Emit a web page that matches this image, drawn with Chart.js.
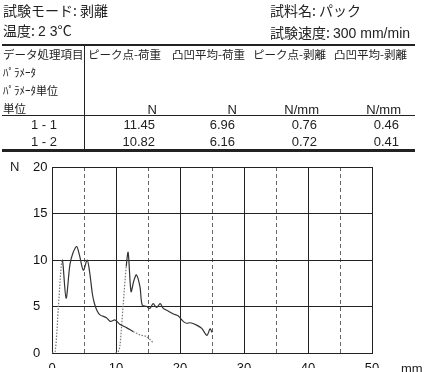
<!DOCTYPE html>
<html>
<head>
<meta charset="utf-8">
<script src="https://cdn.jsdelivr.net/npm/chart.js@4"></script>
<style>
  body { margin: 0; background: #fff; }
  #page { position: relative; width: 427px; height: 372px; overflow: hidden; color: #222;
          font-family: "Noto Sans CJK JP", "Liberation Sans", sans-serif; }
  #page div { position: absolute; white-space: nowrap; line-height: 1; }
  #page #table-body { left: 0; top: 0; width: 427px; height: 372px; }
  .head { font-size: 14px; }
  .th { font-size: 11.5px; }
  .num { font-family: "Liberation Sans", sans-serif; font-size: 13px; text-align: right; }
  .rule { background: #222; }
  canvas { position: absolute; left: 0; top: 0; }
</style>
</head>
<body>
<div id="page">
  <canvas id="peel-chart" width="427" height="372"></canvas>

  <div class="head" style="left:3px; top:3px;">試験モード: 剥離</div>
  <div class="head" style="left:3px; top:23px;">温度: <span style="font-family:'Liberation Sans'">2 3</span>°C</div>
  <div class="head" style="left:270px; top:3px;">試料名: パック</div>
  <div class="head" style="left:270px; top:25px;">試験速度: <span style="font-family:'Liberation Sans'">300 mm/min</span></div>

  <div class="rule" style="left:2px; top:44px; width:413px; height:2px;"></div>
  <div class="rule" style="left:84px; top:45px; width:1px; height:105px;"></div>
  <div class="rule" style="left:2px; top:115px; width:413px; height:1px;"></div>
  <div class="rule" style="left:2px; top:149px; width:413px; height:3px;"></div>

  <div class="th" style="left:3px; top:49px;">データ処理項目</div>
  <div class="th" style="left:88px; top:49px;">ピーク点-荷重</div>
  <div class="th" style="left:172px; top:49px;">凸凹平均-荷重</div>
  <div class="th" style="left:253px; top:49px;">ピーク点-剥離</div>
  <div class="th" style="left:334px; top:49px;">凸凹平均-剥離</div>
  <div class="th" style="left:3px; top:67px; font-size:11px;">ﾊﾟﾗﾒｰﾀ</div>
  <div class="th" style="left:3px; top:85px; font-size:11px;">ﾊﾟﾗﾒｰﾀ単位</div>
  <div class="th" style="left:3px; top:103px;">単位</div>

  <div id="table-body"></div>

  <div class="num" style="left:10px; top:160px; text-align:left;">N</div>
  <div class="num" style="left:401px; top:362px; text-align:left;">mm</div>
</div>

<script>
// Summary table
const rowNames = ['1 - 1', '1 - 2'];
const unitLabels = ['N', 'N', 'N/mm', 'N/mm'];
const peakLoad = [11.45, 10.82];
const avgLoad = [6.96, 6.16];
const peakPeel = [0.76, 0.72];
const avgPeel = [0.46, 0.41];

// Load curves (mm, N)
const run1X = [0, 0.5, 1.0, 1.6, 2.2, 2.8, 3.3, 3.85, 4.3, 4.9, 5.5, 5.9, 6.3, 6.6, 7.0, 7.5, 8.5, 9.1, 9.85, 10.6, 11.7, 12.7, 13.75, 14.8, 15.8];
const run1Y = [0, 0.2, 5.0, 10.0, 5.9, 9.5, 10.8, 11.45, 10.5, 8.9, 10.0, 8.6, 6.4, 5.4, 4.6, 4.1, 3.8, 3.4, 3.55, 3.1, 2.7, 2.3, 1.95, 1.75, 1.1];
const run2X = [9.9, 10.3, 10.6, 11.1, 11.6, 11.9, 12.35, 12.8, 13.2, 13.75, 14.1, 14.8, 15.3, 15.8, 16.35, 16.9, 17.4, 18.2, 18.95, 19.7, 20.5, 21.0, 21.6, 22.6, 23.4, 24.2, 24.7, 25.0];
const run2Y = [0, 0.1, 0.7, 5.0, 9.3, 10.82, 6.6, 7.8, 8.4, 7.1, 5.15, 5.0, 4.8, 5.3, 4.9, 5.3, 4.8, 4.5, 4.2, 4.0, 3.4, 3.2, 3.25, 3.0, 2.65, 1.9, 2.6, 2.2];

const yTicks = [0, 5, 10, 15, 20];
const xTicks = [0, 10, 20, 30, 40, 50];

// build table rows
const colRight = [157, 237, 319, 401];
const tableBody = document.getElementById('table-body');
function addCell(text, right, top) {
    const d = document.createElement('div');
    d.className = 'num';
    d.textContent = text;
    d.style.right = (427 - right) + 'px';
    d.style.top = top + 'px';
    tableBody.appendChild(d);
}
unitLabels.forEach((u, i) => addCell(u, colRight[i], 103));
const columns = [peakLoad, avgLoad, peakPeel, avgPeel];
rowNames.forEach((name, r) => {
    const top = 118 + r * 17;
    const d = document.createElement('div');
    d.className = 'num';
    d.textContent = name;
    d.style.left = '31px';
    d.style.top = top + 'px';
    tableBody.appendChild(d);
    columns.forEach((col, c) => addCell(col[r].toFixed(2), colRight[c] - 2, top));
});

const toPoints = (xs, ys) => xs.map((x, i) => ({ x: x, y: ys[i] }));

// light dotted parts of the trace (fast rise and tail of run 1)
const dotted1 = i => i < 3 || i >= 21;
const dotted2 = i => i < 4;

const ctx = document.getElementById('peel-chart').getContext('2d');
new Chart(ctx, {
    type: 'line',
    data: {
        datasets: [{
            data: toPoints(run1X, run1Y),
            borderColor: '#333',
            borderWidth: 1.2,
            pointRadius: 0,
            tension: 0.3,
            segment: {
                borderDash: s => dotted1(s.p0DataIndex) ? [1.5, 1.5] : undefined,
                borderColor: s => dotted1(s.p0DataIndex) ? '#777' : undefined
            }
        }, {
            data: toPoints(run2X, run2Y),
            borderColor: '#333',
            borderWidth: 1.2,
            pointRadius: 0,
            tension: 0.3,
            segment: {
                borderDash: s => dotted2(s.p0DataIndex) ? [1.5, 1.5] : undefined,
                borderColor: s => dotted2(s.p0DataIndex) ? '#777' : undefined
            }
        }]
    },
    options: {
        responsive: false,
        animation: false,
        layout: { padding: { left: 33, right: 55, top: 167, bottom: 4 } },
        plugins: { legend: { display: false }, tooltip: { enabled: false } },
        scales: {
            x: {
                type: 'linear',
                min: 0,
                max: 50,
                afterFit: s => { s.height = 15; },
                afterBuildTicks: s => {
                    s.ticks = [];
                    for (let v = 0; v <= 50; v += 5) s.ticks.push({ value: v });
                },
                grid: {
                    drawTicks: false,
                    color: c => (c.tick && c.tick.value % 10 !== 0) ? '#666' : '#222',
                    lineWidth: 1
                },
                border: {
                    color: '#222',
                    dash: c => (c.tick && c.tick.value % 10 !== 0) ? [4, 3] : []
                },
                ticks: {
                    padding: 8,
                    autoSkip: false,
                    maxRotation: 0,
                    color: '#111',
                    font: { family: 'Liberation Sans', size: 13 },
                    callback: v => xTicks.includes(v) ? String(v) : ''
                }
            },
            y: {
                min: 0,
                max: 20,
                afterFit: s => { s.width = 19; },
                afterBuildTicks: s => { s.ticks = yTicks.map(v => ({ value: v })); },
                grid: { drawTicks: false, color: '#222', lineWidth: 1 },
                border: { color: '#222' },
                ticks: {
                    crossAlign: 'far',
                    padding: 0,
                    color: '#111',
                    font: { family: 'Liberation Sans', size: 13 }
                }
            }
        }
    }
});
</script>
</body>
</html>
